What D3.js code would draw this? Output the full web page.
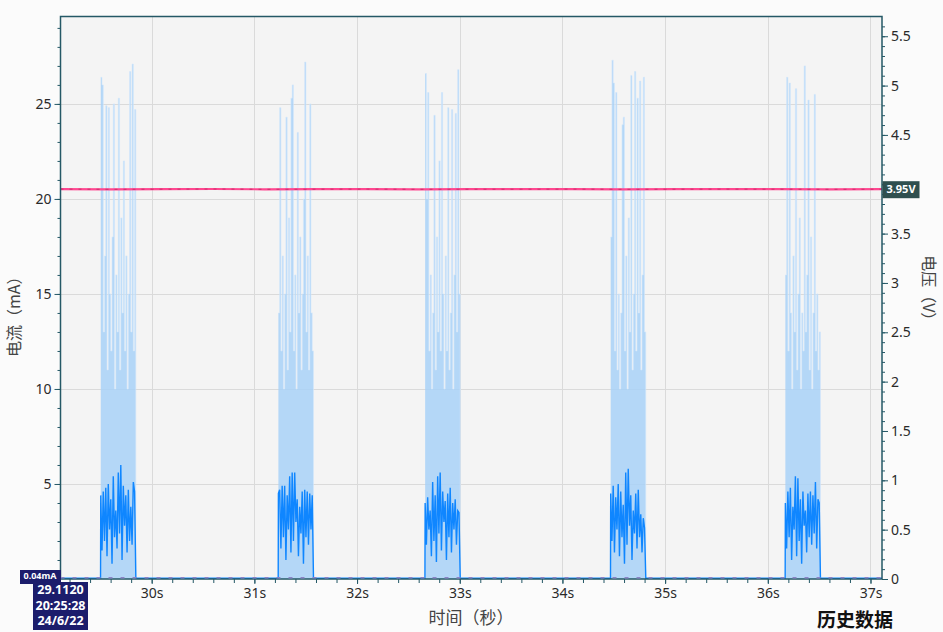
<!DOCTYPE html>
<html>
<head>
<meta charset="utf-8">
<script src="https://cdn.jsdelivr.net/npm/d3@7"></script>
<style>
  html, body { margin: 0; padding: 0; background: #fbfbfb; }
  svg { display: block; font-family: "Noto Sans", "DejaVu Sans", sans-serif; }
</style>
</head>
<body>
<div id="chart"></div>
<script>
const width = 943;
const height = 632;
const margin = { top: 16.5, right: 61, bottom: 53, left: 60.5 };

// time window shown (seconds)
const timeDomain = [29.112, 37.112];
const timeTicks = [30, 31, 32, 33, 34, 35, 36, 37];
const currentTicks = [0, 5, 10, 15, 20, 25];
const voltTicks = [0, 0.5, 1, 1.5, 2, 2.5, 3, 3.5, 4, 4.5, 5, 5.5];

// current outside the bursts (mA)
const idleCurrent = 0.04;

// burst start times (s) and sample interval inside a burst
const burstStart = [29.504, 31.234, 32.663, 34.470, 36.171];
const sampleStep = 0.0122;

// peak current per sample (mA)
const burstMax = [
  [26.4, 26.0, 13, 17, 24.9, 11, 24.8, 15, 12, 18, 25.0, 10, 16, 13, 25.3, 11, 19, 14, 22, 12, 17, 10, 15, 26.7, 13, 27.1, 12, 24.7],
  [14, 24.8, 12, 17, 10, 15, 24.3, 11, 19, 13, 25.3, 26.0, 12, 16, 10, 23.5, 14, 18, 11, 15, 20, 27.2, 13, 17, 11, 25.0, 14, 12],
  [26.6, 20, 25.6, 12, 16, 10, 14, 24.4, 11, 18, 13, 22, 12, 25.6, 15, 10, 17, 12, 24.8, 11, 14, 24.7, 10, 16, 24.5, 13, 26.8, 15],
  [18, 27.3, 26.1, 12, 25.6, 11, 15, 10, 14, 23.9, 24.3, 12, 17, 10, 19, 13, 26.5, 11, 15, 26.7, 12, 25.3, 14, 26.2, 11, 16, 26.4, 13],
  [16, 26.4, 12, 26.1, 14, 10, 17, 13, 25.8, 11, 15, 19, 10, 14, 12, 27.0, 13, 16, 25.2, 11, 18, 10, 14, 25.5, 12, 15, 11, 13]
];

// average current per sample (mA)
const burstAvg = [
  [4.4, 1.5, 4.6, 2.0, 4.8, 1.2, 5.0, 2.6, 4.2, 0.8, 5.4, 2.2, 3.6, 1.6, 5.6, 2.4, 6.0, 1.0, 4.9, 2.8, 4.4, 1.4, 4.7, 2.0, 3.8, 1.8, 5.1, 4.6],
  [4.5, 4.7, 1.6, 4.9, 2.2, 4.9, 1.0, 4.4, 2.6, 5.4, 1.4, 5.6, 2.0, 5.6, 3.0, 4.2, 1.2, 3.8, 2.4, 4.6, 0.8, 4.7, 2.2, 4.6, 1.8, 4.5, 2.6, 4.4],
  [4.0, 1.8, 4.3, 2.6, 3.6, 1.2, 5.1, 2.0, 4.4, 0.9, 5.4, 2.4, 5.6, 1.5, 4.6, 3.0, 4.1, 1.0, 4.5, 2.2, 4.8, 1.4, 4.0, 2.6, 4.2, 1.8, 3.6, 3.5],
  [4.5, 2.0, 4.9, 1.4, 4.3, 2.6, 5.0, 1.2, 4.6, 2.2, 3.9, 0.8, 5.6, 1.8, 5.8, 2.8, 4.4, 1.0, 3.6, 2.4, 4.5, 1.6, 4.7, 2.2, 3.4, 1.4, 3.2, 2.7],
  [4.0, 1.6, 4.6, 2.2, 4.8, 1.0, 3.8, 2.6, 5.4, 1.2, 5.3, 2.0, 4.2, 0.8, 4.6, 2.8, 3.6, 1.4, 4.5, 2.2, 4.6, 1.8, 4.4, 2.4, 5.1, 1.6, 4.2, 4.0]
];

// supply voltage (V)
const voltTimes = [29.112, 29.6, 30.1, 30.6, 31.1, 31.6, 32.1, 32.6, 33.1, 33.6, 34.1, 34.6, 35.1, 35.6, 36.1, 36.6, 37.112];
const voltValues = [3.951, 3.949, 3.950, 3.952, 3.949, 3.950, 3.951, 3.949, 3.950, 3.950, 3.951, 3.949, 3.950, 3.951, 3.950, 3.949, 3.950];

const svg = d3.select("#chart")
  .append("svg")
  .attr("width", width)
  .attr("height", height);

const x0 = margin.left, x1 = width - margin.right;
const y0 = height - margin.bottom, y1 = margin.top;

const xScale = d3.scaleLinear().domain(timeDomain).range([x0, x1]);
const yScale = d3.scaleLinear().domain([0, 29.6]).range([y0, y1]);
const vScale = d3.scaleLinear().domain([0, 5.7]).range([y0, y1]);

// plot background
svg.append("rect")
  .attr("x", x0).attr("y", y1)
  .attr("width", x1 - x0).attr("height", y0 - y1)
  .attr("fill", "#f4f4f4");

// grid
svg.append("g").selectAll("line")
  .data(currentTicks.filter(d => d > 0))
  .join("line")
  .attr("x1", x0).attr("x2", x1)
  .attr("y1", d => Math.round(yScale(d)) + 0.5)
  .attr("y2", d => Math.round(yScale(d)) + 0.5)
  .attr("stroke", "#dadada");

svg.append("g").selectAll("line")
  .data(timeTicks)
  .join("line")
  .attr("x1", d => Math.round(xScale(d)) + 0.5)
  .attr("x2", d => Math.round(xScale(d)) + 0.5)
  .attr("y1", y1).attr("y2", y0)
  .attr("stroke", "#dadada");

// peak current wash
const maxArea = d3.area()
  .x(d => xScale(d.t))
  .y0(yScale(0))
  .y1(d => yScale(d.v))
  .curve(d3.curveStepAfter);

burstStart.forEach((t0, b) => {
  const pts = burstMax[b].map((v, i) => ({ t: t0 + i * sampleStep, v }));
  pts.push({ t: t0 + burstMax[b].length * sampleStep, v: 0 });
  svg.append("path")
    .datum(pts)
    .attr("d", maxArea)
    .attr("fill", "#a6d1f8")
    .attr("fill-opacity", 0.82);
  svg.append("path")
    .datum(pts)
    .attr("d", d3.line().x(d => xScale(d.t)).y(d => yScale(d.v)).curve(d3.curveStepAfter))
    .attr("fill", "none")
    .attr("stroke", "#d3e8fb")
    .attr("stroke-width", 0.6);
});

// average current line
const series = [{ t: timeDomain[0], v: idleCurrent }];
burstStart.forEach((t0, b) => {
  series.push({ t: t0 - 0.002, v: idleCurrent });
  burstAvg[b].forEach((v, i) => series.push({ t: t0 + i * sampleStep, v }));
  series.push({ t: t0 + burstAvg[b].length * sampleStep, v: idleCurrent });
});
series.push({ t: timeDomain[1], v: idleCurrent });

svg.append("path")
  .datum(series)
  .attr("d", d3.line().x(d => xScale(d.t)).y(d => yScale(d.v)))
  .attr("fill", "none")
  .attr("stroke", "#0f86ff")
  .attr("stroke-width", 1.4);

// voltage line
const voltData = voltTimes.map((t, i) => ({ t, v: voltValues[i] }));
const voltLine = d3.line().x(d => xScale(d.t)).y(d => vScale(d.v));
svg.append("path")
  .datum(voltData)
  .attr("d", voltLine)
  .attr("fill", "none")
  .attr("stroke", "#ff4790")
  .attr("stroke-width", 2.2);
svg.append("path")
  .datum(voltData)
  .attr("d", voltLine)
  .attr("fill", "none")
  .attr("stroke", "#c9306c")
  .attr("stroke-width", 1)
  .attr("stroke-dasharray", "3,6");

// axes
const axisColor = "#245866";
const styleAxis = g => {
  g.select(".domain").remove();
  g.selectAll(".tick line").attr("stroke", axisColor);
  g.selectAll(".tick text")
    .attr("fill", "#2a2a2a")
    .attr("font-size", "14px")
    .attr("font-family", "'Noto Sans', sans-serif");
};

// the marker box covers the label at 4 V
const vMarker = voltValues[voltValues.length - 1];

// left
svg.append("g")
  .attr("transform", `translate(${x0},0)`)
  .call(d3.axisLeft(yScale).tickValues(d3.range(0, 30, 1)).tickSize(3).tickFormat(""))
  .call(styleAxis);
svg.append("g")
  .attr("transform", `translate(${x0},0)`)
  .call(d3.axisLeft(yScale).tickValues(currentTicks).tickSize(6).tickPadding(3).tickFormat(d => d === 0 ? "" : d))
  .call(styleAxis);

// right
svg.append("g")
  .attr("transform", `translate(${x1},0)`)
  .call(d3.axisRight(vScale).tickValues(d3.range(0, 57, 1).map(d => d / 10)).tickSize(3).tickFormat(""))
  .call(styleAxis);
svg.append("g")
  .attr("transform", `translate(${x1},0)`)
  .call(d3.axisRight(vScale).tickValues(voltTicks).tickSize(6).tickPadding(3)
    .tickFormat(d => Math.abs(vScale(d) - vScale(vMarker)) < 12 ? "" : d))
  .call(styleAxis);

// bottom
svg.append("g")
  .attr("transform", `translate(0,${y0})`)
  .call(d3.axisBottom(xScale).tickValues(d3.range(146, 186, 1).map(d => d / 5)).tickSize(4).tickFormat(""))
  .call(styleAxis);
svg.append("g")
  .attr("transform", `translate(0,${y0})`)
  .call(d3.axisBottom(xScale).tickValues(timeTicks).tickSize(5).tickPadding(4).tickFormat(d => d + "s"))
  .call(styleAxis);

// frame
svg.append("rect")
  .attr("x", x0).attr("y", y1)
  .attr("width", x1 - x0).attr("height", y0 - y1)
  .attr("fill", "none")
  .attr("stroke", axisColor)
  .attr("stroke-width", 1.5);

// idle current dashes along the bottom
svg.append("line")
  .attr("x1", x0).attr("x2", x1)
  .attr("y1", yScale(idleCurrent) - 0.5).attr("y2", yScale(idleCurrent) - 0.5)
  .attr("stroke", "#8a84c6")
  .attr("stroke-width", 1.5)
  .attr("stroke-dasharray", "4,8");

// axis titles
svg.append("text")
  .attr("transform", `translate(16,${(y0 + y1) / 2 + 15}) rotate(-90)`)
  .attr("text-anchor", "middle")
  .attr("dominant-baseline", "middle")
  .attr("font-size", "16px")
  .attr("fill", "#444")
  .attr("font-family", "'Noto Sans CJK SC', sans-serif")
  .text("电流（mA）");

svg.append("text")
  .attr("transform", `translate(927,${(y0 + y1) / 2 - 6}) rotate(90)`)
  .attr("text-anchor", "middle")
  .attr("dominant-baseline", "middle")
  .attr("font-size", "16px")
  .attr("fill", "#444")
  .attr("font-family", "'Noto Sans CJK SC', sans-serif")
  .text("电压（V）");

svg.append("text")
  .attr("x", 471).attr("y", 624)
  .attr("text-anchor", "middle")
  .attr("font-size", "17px")
  .attr("fill", "#444")
  .attr("font-family", "'Noto Sans CJK SC', sans-serif")
  .text("时间（秒）");

svg.append("text")
  .attr("x", 855).attr("y", 627)
  .attr("text-anchor", "middle")
  .attr("font-size", "19px")
  .attr("font-weight", "bold")
  .attr("fill", "#111")
  .attr("font-family", "'Noto Sans CJK SC', sans-serif")
  .text("历史数据");

// voltage marker label
const vY = vScale(vMarker);
svg.append("rect")
  .attr("x", x1 + 0.5).attr("y", vY - 8)
  .attr("width", 37).attr("height", 17)
  .attr("fill", "#2f4f4f");
svg.append("text")
  .attr("x", x1 + 19).attr("y", vY + 0.5)
  .attr("text-anchor", "middle")
  .attr("dominant-baseline", "middle")
  .attr("font-size", "11px")
  .attr("font-weight", "bold")
  .attr("fill", "#fff")
  .text(vMarker.toFixed(2) + "V");

// cursor value / time labels
svg.append("rect")
  .attr("x", 20).attr("y", 570)
  .attr("width", 41).attr("height", 14)
  .attr("fill", "#1c1d6c");
svg.append("text")
  .attr("x", 40).attr("y", 577)
  .attr("text-anchor", "middle")
  .attr("dominant-baseline", "middle")
  .attr("font-size", "9px")
  .attr("font-weight", "bold")
  .attr("fill", "#fff")
  .text(idleCurrent.toFixed(2) + "mA");

svg.append("rect")
  .attr("x", 33).attr("y", 582)
  .attr("width", 55).attr("height", 48)
  .attr("fill", "#1c1d6c");
["29.1120", "20:25:28", "24/6/22"].forEach((s, i) => {
  svg.append("text")
    .attr("x", 60.5).attr("y", 591 + i * 15.5)
    .attr("text-anchor", "middle")
    .attr("dominant-baseline", "middle")
    .attr("font-size", "12.5px")
    .attr("font-weight", "bold")
    .attr("fill", "#fff")
    .text(s);
});
</script>
</body>
</html>
